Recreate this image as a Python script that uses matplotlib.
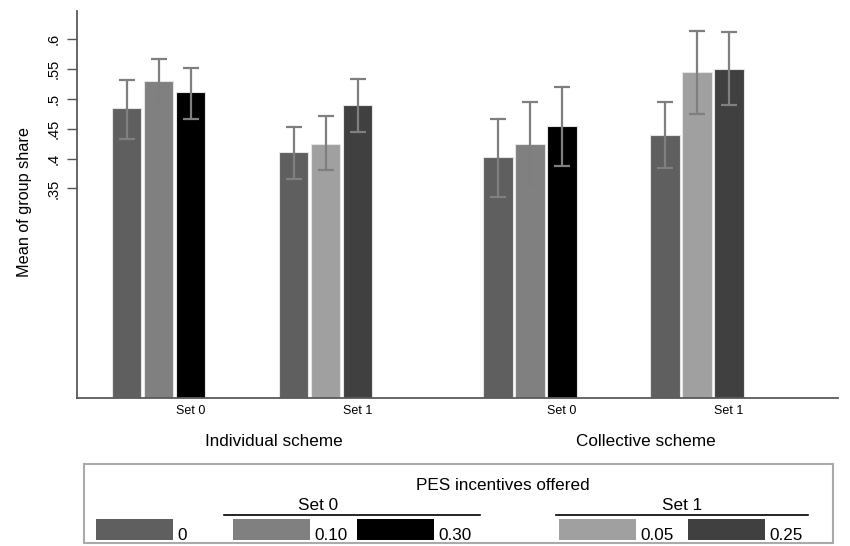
import matplotlib
matplotlib.use("Agg")
import matplotlib.pyplot as plt
from matplotlib.patches import Rectangle
from matplotlib.lines import Line2D
from matplotlib.transforms import blended_transform_factory

plt.rcParams['font.family'] = ['Liberation Sans', 'DejaVu Sans']

# ---------------- data ----------------
schemes = ["Individual scheme", "Collective scheme"]
sets = ["Set 0", "Set 1"]
series_labels = ["0", "0.10", "0.30", "0.05", "0.25"]
series_colors = ["#5f5f5f", "#808080", "#000000", "#a0a0a0", "#404040"]
set_series = {"Set 0": ["0", "0.10", "0.30"], "Set 1": ["0", "0.05", "0.25"]}

means = {
    ("Individual scheme", "Set 0"): [0.484, 0.529, 0.511],
    ("Individual scheme", "Set 1"): [0.411, 0.425, 0.490],
    ("Collective scheme", "Set 0"): [0.402, 0.425, 0.454],
    ("Collective scheme", "Set 1"): [0.440, 0.545, 0.550],
}
ci_low = {
    ("Individual scheme", "Set 0"): [0.433, 0.491, 0.467],
    ("Individual scheme", "Set 1"): [0.366, 0.381, 0.445],
    ("Collective scheme", "Set 0"): [0.335, 0.356, 0.388],
    ("Collective scheme", "Set 1"): [0.384, 0.475, 0.489],
}
ci_high = {
    ("Individual scheme", "Set 0"): [0.532, 0.567, 0.552],
    ("Individual scheme", "Set 1"): [0.453, 0.471, 0.533],
    ("Collective scheme", "Set 0"): [0.467, 0.494, 0.519],
    ("Collective scheme", "Set 1"): [0.495, 0.614, 0.612],
}
yticks = [0.35, 0.4, 0.45, 0.5, 0.55, 0.6]
ytick_labels = [".35", ".4", ".45", ".5", ".55", ".6"]
ylabel = "Mean of group share"
legend_title = "PES incentives offered"

# ---------------- layout ----------------
W, H = 850, 546
fig = plt.figure(figsize=(W / 100, H / 100), dpi=100)

def fx(px):
    return px / W

def fy(py):
    return 1 - py / H

ax_left, ax_right, ax_top, ax_bottom = 77, 838, 11, 397.5
ax = fig.add_axes([fx(ax_left), fy(ax_bottom), fx(ax_right - ax_left), (ax_bottom - ax_top) / H])

start = 126.5
bar_step = 32
set_step = 167
scheme_step = 371.5
bar_w = 29.5

color_of = dict(zip(series_labels, series_colors))
tick_pos, tick_lab = [], []
scheme_centers = []
for si, sch in enumerate(schemes):
    pos_this = []
    for ti, st in enumerate(sets):
        base = start + si * scheme_step + ti * set_step
        xs = [base + k * bar_step for k in range(len(set_series[st]))]
        m = means[(sch, st)]
        lo = ci_low[(sch, st)]
        hi = ci_high[(sch, st)]
        cols = [color_of[s] for s in set_series[st]]
        ax.bar(xs, m, width=bar_w, color=cols, edgecolor="#e4e4e4", linewidth=0.8, zorder=2)
        err = [[mm - l for mm, l in zip(m, lo)], [h - mm for mm, h in zip(m, hi)]]
        ax.errorbar(xs, m, yerr=err, fmt="none", ecolor="#7f7f7f", elinewidth=1.6,
                    capsize=5.5, capthick=1.6, zorder=3)
        tick_pos.append(xs[-1])
        tick_lab.append(st)
        pos_this.append(xs[-1])
    scheme_centers.append(sum(pos_this) / len(pos_this))

ax.set_xlim(ax_left, ax_right)
ax.set_ylim(0, 0.647)

ax.set_xticks(tick_pos)
ax.set_xticklabels(tick_lab, fontsize=9)
ax.tick_params(axis="x", length=0, pad=5.5)
ax.set_xticks([tick_pos[0]], minor=True)
ax.tick_params(axis="x", which="minor", length=4, width=1, color="black")

ax.set_yticks(yticks)
ax.set_yticklabels(ytick_labels, rotation=90, va="center", fontsize=10.5)
ax.tick_params(axis="y", length=7, width=1, color="#555555", pad=5)

for side in ["top", "right"]:
    ax.spines[side].set_visible(False)
for side in ["left", "bottom"]:
    ax.spines[side].set_color("#5a5a5a")
    ax.spines[side].set_linewidth(1.3)

trans = blended_transform_factory(ax.transData, fig.transFigure)
for sch, cx in zip(schemes, scheme_centers):
    ax.text(cx, fy(441), sch, transform=trans, ha="center", va="center", fontsize=12.3)

fig.text(fx(25), fy(202), ylabel, rotation=90, ha="center", va="center", fontsize=11.7)

# ---------------- legend ----------------
fig.patches.append(Rectangle((fx(84), fy(542.5)), fx(833 - 84), (542.5 - 464) / H,
                             transform=fig.transFigure, fill=False,
                             edgecolor="#aaaaaa", linewidth=1.5))
fig.text(fx(503), fy(485), legend_title, ha="center", va="center", fontsize=12.3)

legend_groups = [("", ["0"], None, None),
                 ("Set 0", ["0.10", "0.30"], 224, 480),
                 ("Set 1", ["0.05", "0.25"], 556, 808)]
swatch_x = {"0": 96, "0.10": 233, "0.30": 357, "0.05": 559, "0.25": 688}
sw_w, sw_top, sw_bot = 77, 519, 540
for head, items, x0, x1 in legend_groups:
    if head:
        fig.text(fx((x0 + x1) / 2 - 34 if head == "Set 0" else (x0 + x1) / 2), fy(505),
                 head, ha="center", va="center", fontsize=12.3)
        fig.lines.append(Line2D([fx(x0), fx(x1)], [fy(514.5), fy(514.5)],
                                transform=fig.transFigure, color="black", linewidth=1.2))
    for it in items:
        sx = swatch_x[it]
        fig.patches.append(Rectangle((fx(sx), fy(sw_bot)), fx(sw_w), (sw_bot - sw_top) / H,
                                     transform=fig.transFigure, facecolor=color_of[it],
                                     edgecolor="none"))
        fig.text(fx(sx + sw_w + 4), fy(540.5), it, ha="left", va="baseline", fontsize=12.3)

fig.savefig("out.png", dpi=100)
